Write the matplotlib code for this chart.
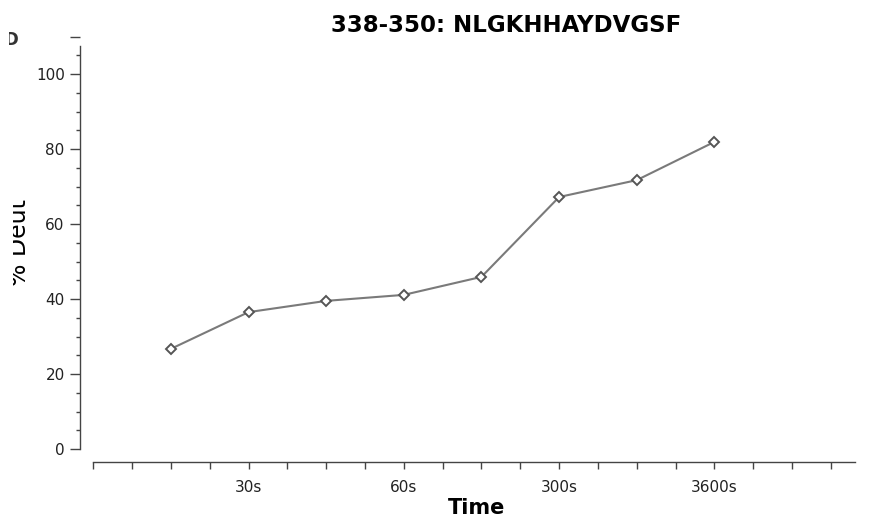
import numpy as np
import matplotlib
matplotlib.use("Agg")
import matplotlib.pyplot as plt
from matplotlib.ticker import MultipleLocator, FixedLocator
from matplotlib.transforms import Bbox, TransformedBbox

# data
title = "338-350: NLGKHHAYDVGSF"
time_labels = ["30s", "60s", "300s", "3600s"]
deut = [26.7, 36.5, 39.5, 41.1, 45.9, 67.2, 71.7, 81.9]

fig = plt.figure(figsize=(8.69, 5.19), dpi=100)
ax = fig.add_axes([80 / 869, 70 / 519, 775 / 869, 420 / 519])

# points sit on every second tick, labels on every fourth
x = np.arange(1, len(deut) + 1) * 2
ax.plot(x, deut, color="#7a7a7a", lw=1.5, marker="D", ms=5.5,
        mfc="white", mec="#555555", mew=1.4, zorder=3)

ax.set_xlim(-0.34, 19.62)
ax.set_ylim(0, 112)

for s in ("top", "right"):
    ax.spines[s].set_visible(False)
ax.spines["left"].set_bounds(0, 107.5)
ax.spines["bottom"].set_bounds(0, 19.62)
ax.spines["bottom"].set_position(("outward", 9.5))
for s in ("left", "bottom"):
    ax.spines[s].set_color("#444444")
    ax.spines[s].set_linewidth(1.0)

ax.yaxis.set_major_locator(FixedLocator([0, 20, 40, 60, 80, 100, 110]))
ax.set_yticklabels(["0", "20", "40", "60", "80", "100", ""])
ax.yaxis.set_minor_locator(MultipleLocator(5))
ax.tick_params(axis="y", which="major", length=7, width=1, color="#444444",
               pad=4, labelsize=11, labelcolor="#222222")
ax.tick_params(axis="y", which="minor", length=3, width=1, color="#444444")

ax.xaxis.set_major_locator(FixedLocator(np.arange(0, 20)))
xt = [""] * 20
for i, lab in zip([4, 8, 12, 16], time_labels):
    xt[i] = lab
ax.set_xticklabels(xt)
ax.tick_params(axis="x", which="major", length=5, width=1, color="#444444",
               pad=8, labelsize=11, labelcolor="#222222")

fig.text(506 / 869, 1 - 25 / 519, title, ha="center", va="center",
         fontsize=16.5, fontweight="bold")
fig.text(477 / 869, 1 - 508 / 519, "Time", ha="center", va="center",
         fontsize=15, fontweight="bold")

# the original is cropped at the left edge, so clip the y label and panel letter
clip = TransformedBbox(Bbox([[13 / 869, 0], [1, 1]]), fig.transFigure)
yl = fig.text(31 / 869, 1 - 243 / 519, "% Deut", ha="right", va="center",
              rotation=90, fontsize=17)
yl.set_clip_box(clip)
yl.set_clip_on(True)

clip_d = TransformedBbox(Bbox([[9 / 869, 0], [1, 1]]), fig.transFigure)
pd = fig.text(18 / 869, 1 - 40 / 519, "D", ha="right", va="center",
              fontsize=12, fontweight="bold", color="#333333")
pd.set_clip_box(clip_d)
pd.set_clip_on(True)

fig.savefig("out.png", dpi=100)
